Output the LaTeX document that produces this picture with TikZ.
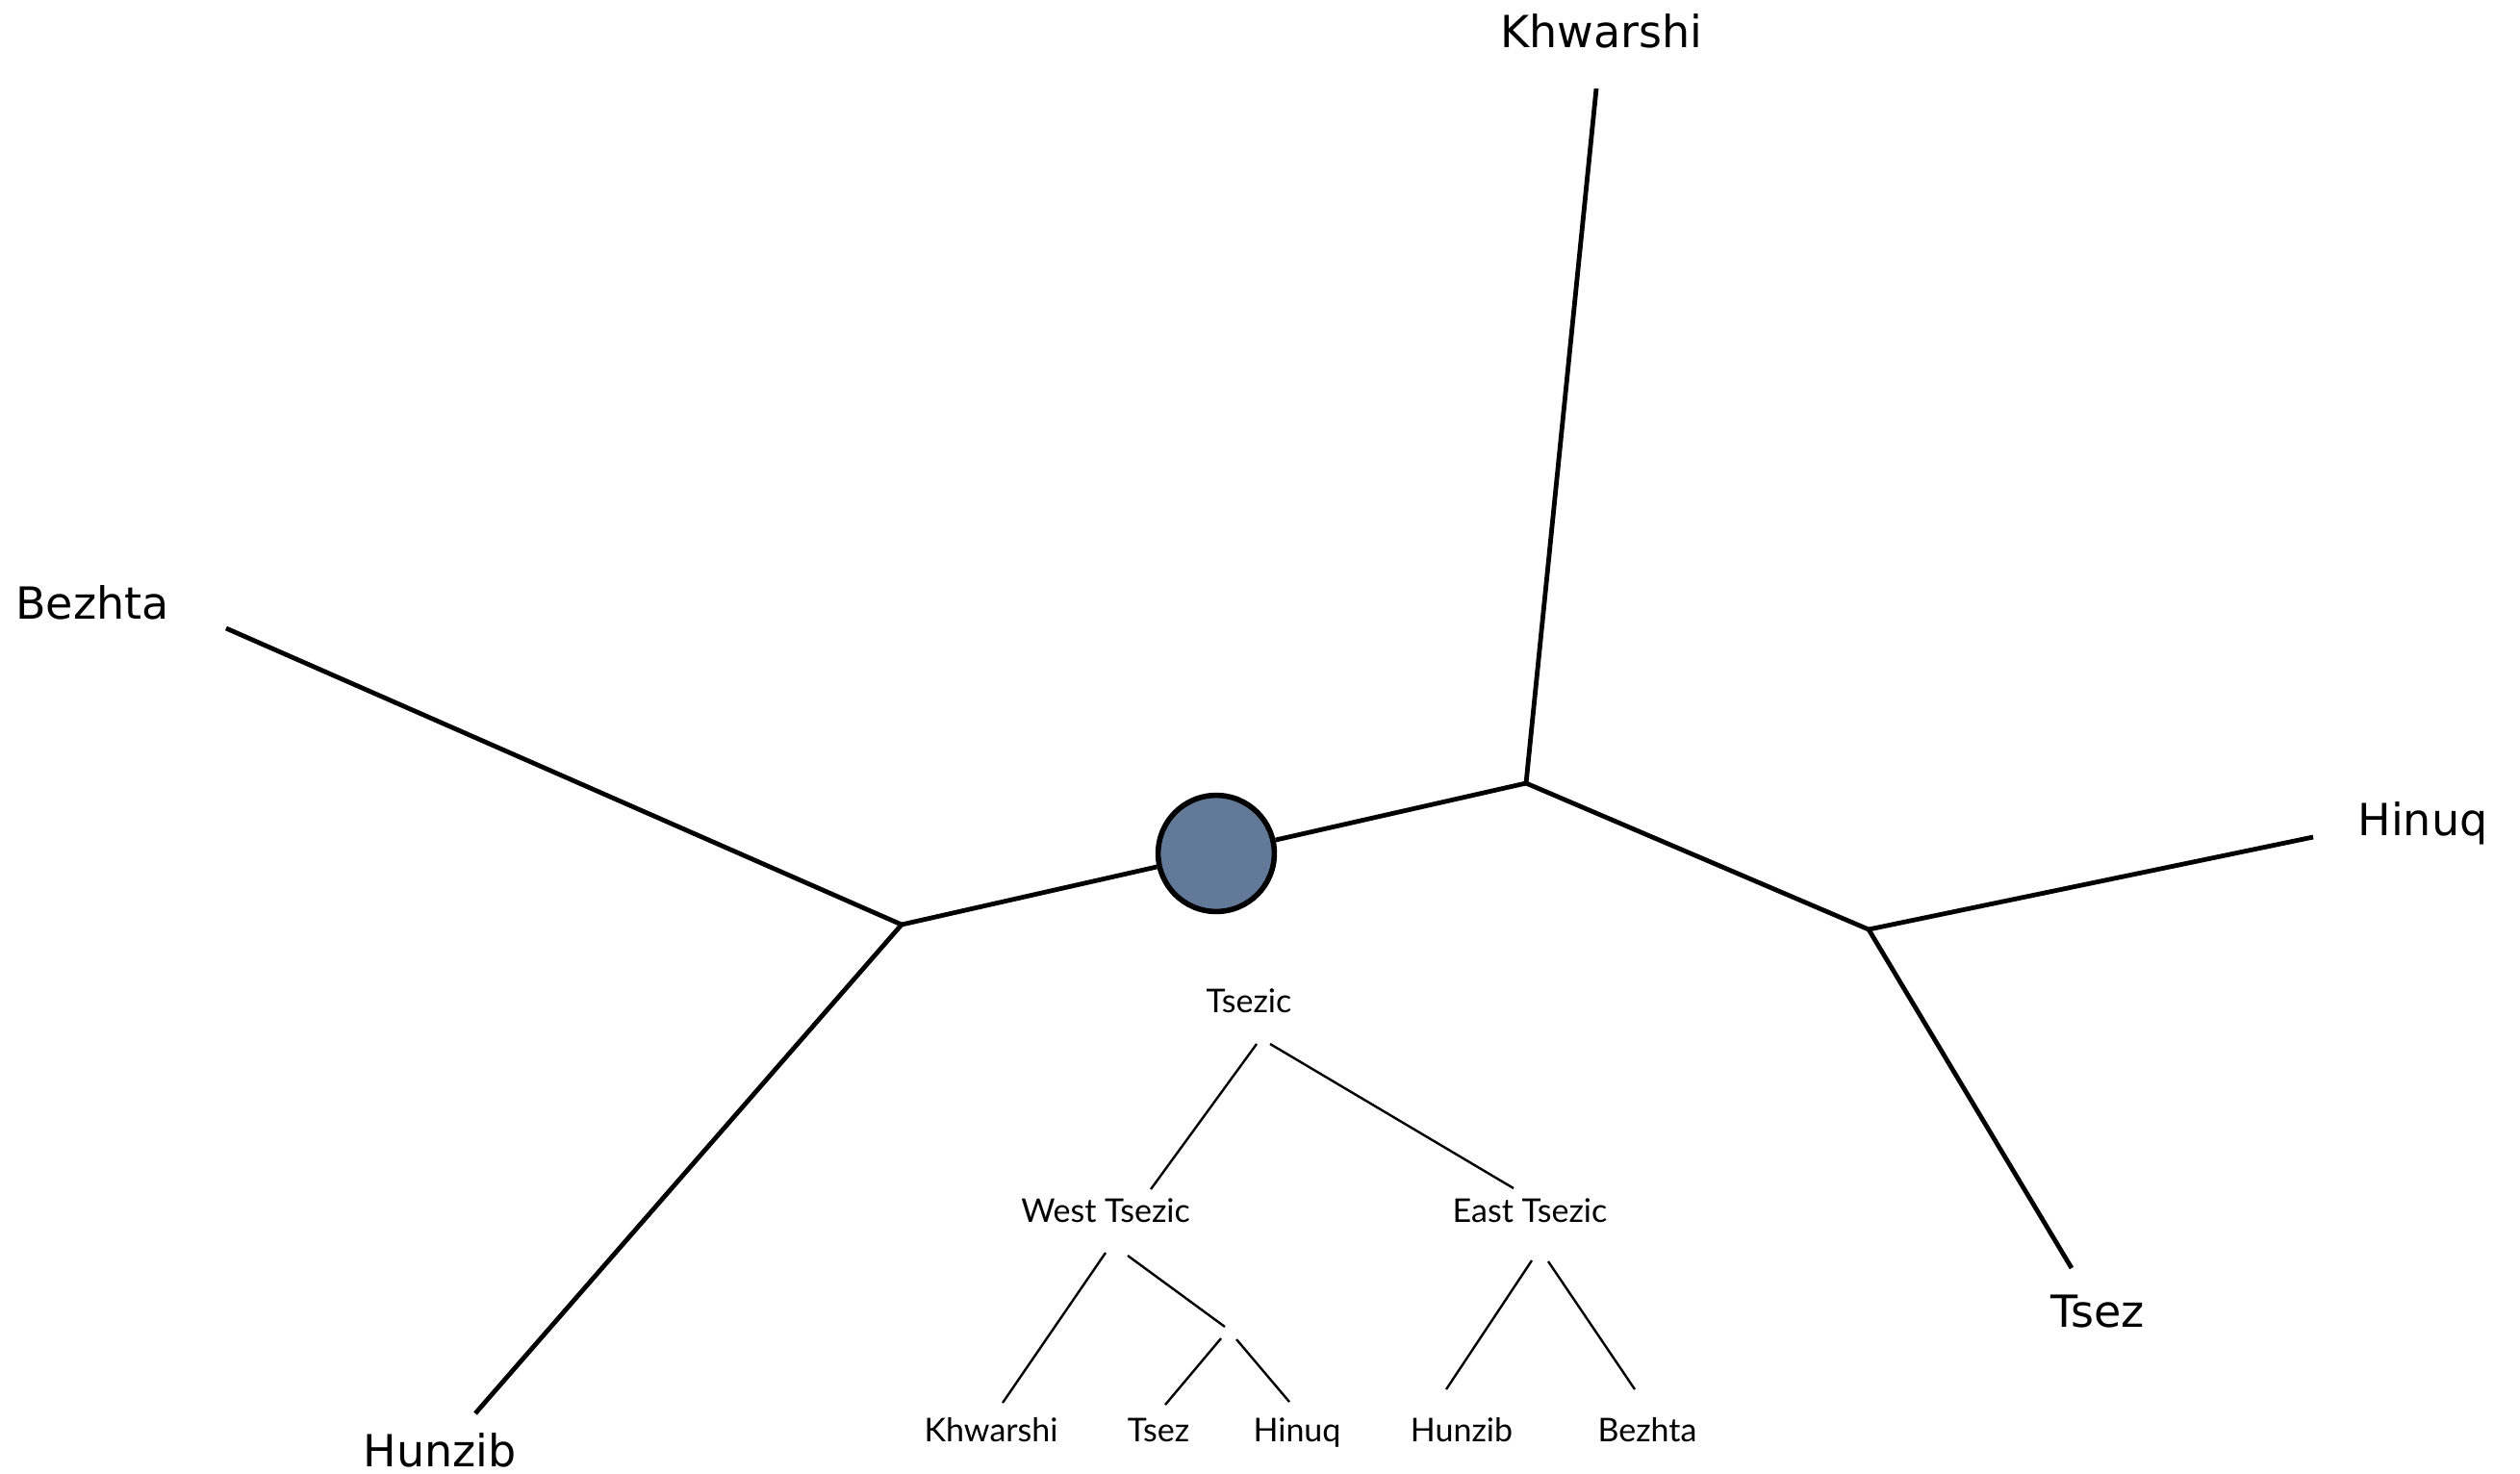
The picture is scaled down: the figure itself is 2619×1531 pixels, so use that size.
\documentclass[tikz,border=0pt]{standalone}
\usepackage{fontspec}
\newfontfamily\bigfont{DejaVu Sans}
\newfontfamily\smallfont{Lato}
\definecolor{nodeblue}{RGB}{98,122,152}
\begin{document}
\begin{tikzpicture}[x=0.25pt,y=-0.25pt,
  branch/.style={line width=1.2pt,line join=round},
  twig/.style={line width=0.6pt},
  biglab/.style={font=\bigfont\fontsize{11.5}{13}\selectfont,anchor=base,inner sep=0pt},
  smalllab/.style={font=\smallfont\fontsize{8.5}{10}\selectfont,anchor=base,inner sep=0pt},
  hub/.style={circle,draw=black,line width=1.4pt,fill=nodeblue,minimum size=30.2pt,inner sep=0pt}]
\useasboundingbox (0,0) rectangle (2619,1531);
% main unrooted tree
\coordinate (L) at (937,961);
\coordinate (M) at (1586,814);
\coordinate (R) at (1942,966);
\coordinate (eBez) at (235,653);
\coordinate (eHun) at (494,1469);
\coordinate (eKhw) at (1659,92);
\coordinate (eHin) at (2404,870);
\coordinate (eTse) at (2153,1318);
\node[hub] (root) at (1264,887) {};
\draw[branch] (eBez) -- (L) -- (eHun);
\draw[branch] (L) -- (root);
\draw[branch] (root) -- (M);
\draw[branch] (M) -- (eKhw);
\draw[branch] (M) -- (R);
\draw[branch] (R) -- (eHin);
\draw[branch] (R) -- (eTse);
\node[biglab] (lKhw) at (1664,50) {Khwarshi};
\node[biglab] (lBez) at (96,643) {Bezhta};
\node[biglab] (lHin) at (2518,868) {Hinuq};
\node[biglab] (lHun) at (457,1524) {Hunzib};
\node[biglab] (lTse) at (2180,1379) {Tsez};
% small rooted tree
\node[smalllab] (tTsezic) at (1298,1052) {Tsezic};
\node[smalllab] (tWest) at (1149,1270) {West Tsezic};
\node[smalllab] (tEast) at (1590,1270) {East Tsezic};
\node[smalllab] (tKhw) at (1030,1498) {Khwarshi};
\node[smalllab] (tTse) at (1204,1498) {Tsez};
\node[smalllab] (tHin) at (1348,1498) {Hinuq};
\node[smalllab] (tHun) at (1519,1498) {Hunzib};
\node[smalllab] (tBez) at (1712,1498) {Bezhta};
\coordinate (a1) at (1306,1085);
\coordinate (a2) at (1196,1236);
\coordinate (b1) at (1320,1085);
\coordinate (b2) at (1573,1235);
\coordinate (c1) at (1149,1302);
\coordinate (c2) at (1042,1458);
\coordinate (d1) at (1172,1305);
\coordinate (d2) at (1273,1379);
\coordinate (e1) at (1269,1391);
\coordinate (e2) at (1211,1460);
\coordinate (f1) at (1285,1392);
\coordinate (f2) at (1340,1457);
\coordinate (g1) at (1592,1310);
\coordinate (g2) at (1503,1444);
\coordinate (h1) at (1609,1311);
\coordinate (h2) at (1699,1444);
\draw[twig] (a1) -- (a2);
\draw[twig] (b1) -- (b2);
\draw[twig] (c1) -- (c2);
\draw[twig] (d1) -- (d2);
\draw[twig] (e1) -- (e2);
\draw[twig] (f1) -- (f2);
\draw[twig] (g1) -- (g2);
\draw[twig] (h1) -- (h2);
\end{tikzpicture}
\end{document}
